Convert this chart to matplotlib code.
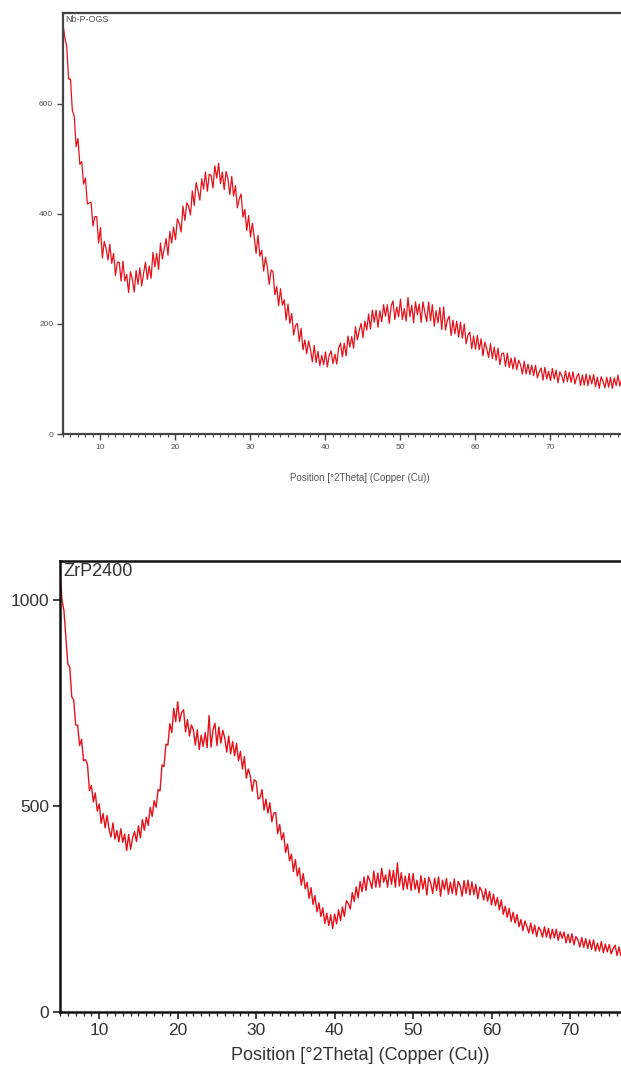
import numpy as np
import matplotlib
matplotlib.use("Agg")
import matplotlib.pyplot as plt
from matplotlib.ticker import MultipleLocator

plt.rcParams['font.family'] = ['Liberation Sans', 'DejaVu Sans']

# 2Theta grid (deg), 0.25 step
two_theta = np.arange(5.0, 79.5 + 0.001, 0.25)

# Nb-P-OGS counts
nbp_counts = [
    745, 720, 705, 645, 645, 588, 578, 522, 537, 490,
    495, 454, 465, 418, 420, 421, 378, 395, 395, 347,
    375, 320, 350, 337, 316, 345, 310, 328, 288, 312,
    312, 278, 314, 278, 290, 257, 295, 281, 258, 297,
    272, 302, 269, 292, 312, 281, 305, 283, 330, 304,
    328, 299, 347, 318, 336, 355, 325, 368, 347, 376,
    353, 391, 383, 367, 414, 388, 420, 414, 398, 442,
    415, 457, 442, 425, 464, 445, 476, 441, 472, 470,
    447, 487, 465, 492, 455, 476, 444, 477, 463, 435,
    468, 432, 451, 411, 427, 436, 394, 408, 370, 397,
    358, 383, 358, 328, 361, 323, 334, 296, 321, 303,
    272, 298, 295, 253, 268, 233, 264, 234, 244, 207,
    236, 201, 219, 180, 197, 201, 168, 192, 153, 171,
    146, 169, 153, 131, 161, 130, 150, 124, 143, 126,
    149, 122, 143, 151, 128, 145, 127, 156, 165, 140,
    165, 142, 178, 158, 177, 156, 195, 171, 188, 201,
    175, 205, 189, 218, 191, 225, 203, 225, 194, 224,
    204, 235, 214, 235, 201, 232, 242, 208, 231, 213,
    245, 208, 228, 205, 248, 213, 234, 202, 240, 217,
    236, 203, 240, 221, 204, 240, 206, 235, 196, 224,
    202, 230, 190, 231, 189, 207, 214, 179, 207, 182,
    205, 176, 203, 174, 200, 164, 180, 185, 155, 178,
    154, 179, 153, 173, 142, 167, 155, 139, 164, 137,
    158, 134, 156, 126, 146, 147, 123, 147, 121, 138,
    118, 139, 117, 134, 126, 109, 132, 109, 127, 108,
    125, 106, 125, 102, 113, 120, 98, 121, 100, 114,
    97, 119, 100, 116, 93, 113, 106, 94, 115, 95,
    112, 94, 113, 91, 104, 110, 88, 107, 89, 109,
    88, 107, 91, 108, 86, 103, 83, 104, 96, 84,
    103, 85, 103, 83, 102, 88, 107, 87, 100,
]

# ZrP2400 counts
zrp_counts = [
    1080, 1000, 975, 910, 845, 837, 765, 758, 697, 696,
    647, 662, 610, 613, 602, 538, 550, 510, 532, 488,
    505, 458, 482, 447, 477, 444, 425, 459, 420, 441,
    413, 445, 412, 432, 392, 431, 395, 422, 438, 414,
    452, 423, 467, 441, 473, 453, 497, 475, 513, 497,
    540, 537, 600, 596, 650, 648, 700, 678, 737, 705,
    753, 705, 727, 734, 680, 710, 670, 697, 685, 648,
    685, 637, 672, 645, 678, 642, 720, 643, 685, 701,
    647, 692, 653, 684, 665, 631, 670, 627, 657, 622,
    652, 610, 633, 590, 620, 568, 590, 573, 536, 564,
    560, 517, 520, 540, 490, 517, 483, 508, 462, 483,
    484, 433, 455, 418, 435, 387, 408, 367, 383, 341,
    370, 330, 350, 308, 336, 299, 315, 276, 302, 261,
    283, 243, 265, 232, 253, 215, 240, 210, 236, 203,
    238, 214, 248, 222, 255, 232, 270, 263, 250, 290,
    268, 304, 277, 317, 292, 328, 295, 331, 319, 300,
    342, 303, 337, 303, 349, 315, 333, 303, 345, 310,
    344, 303, 362, 306, 338, 297, 330, 299, 336, 295,
    336, 298, 320, 289, 331, 298, 325, 284, 327, 313,
    288, 325, 295, 328, 281, 320, 297, 324, 286, 315,
    288, 323, 284, 317, 307, 281, 319, 288, 320, 284,
    316, 285, 310, 275, 303, 294, 272, 299, 269, 293,
    260, 286, 258, 278, 248, 272, 237, 257, 230, 252,
    220, 242, 216, 237, 207, 225, 198, 221, 208, 192,
    216, 190, 211, 183, 206, 199, 182, 207, 182, 203,
    178, 201, 180, 201, 174, 195, 179, 194, 168, 189,
    168, 190, 163, 183, 176, 158, 181, 157, 178, 154,
    175, 152, 175, 148, 167, 148, 171, 144, 165, 146,
    164, 141, 154, 162, 137, 158, 136, 159, 138, 156,
    135, 157, 134, 154, 136, 155, 133, 152, 134,
]

xlabel = "Position [°2Theta] (Copper (Cu))"
line_color = "#e3121b"

fig = plt.figure(figsize=(6.21, 10.74), dpi=100)

# ---- top panel: Nb-P-OGS ----
ax1 = fig.add_axes([0.1014, 0.5959, 0.8986, 0.392])
ax1.plot(two_theta, nbp_counts, color=line_color, lw=0.9)
ax1.set_xlim(5, 79.4)
ax1.set_ylim(0, 765)
ax1.set_yticks([0, 200, 400, 600])
ax1.xaxis.set_major_locator(MultipleLocator(10))
ax1.xaxis.set_minor_locator(MultipleLocator(1))
ax1.tick_params(axis='both', which='major', labelsize=6, labelcolor='#555',
                color='#444', length=4, width=1, pad=3)
ax1.tick_params(axis='x', which='minor', color='#444', length=2.5, width=0.8)
for s in ['left', 'top', 'bottom']:
    ax1.spines[s].set_color('#444')
    ax1.spines[s].set_linewidth(1.6)
ax1.spines['right'].set_visible(False)
ax1.text(0.004, 0.996, "Nb-P-OGS", transform=ax1.transAxes, fontsize=6.5,
         color='#555', ha='left', va='top')
ax1.set_xlabel(xlabel, fontsize=7, color='#555')
ax1.xaxis.set_label_coords(0.532, -0.092)

# ---- bottom panel: ZrP2400 ----
ax2 = fig.add_axes([0.0966, 0.0577, 0.9034, 0.42])
ax2.plot(two_theta, zrp_counts, color=line_color, lw=1.0)
ax2.set_xlim(5, 76.5)
ax2.set_ylim(0, 1095)
ax2.set_yticks([0, 500, 1000])
ax2.xaxis.set_major_locator(MultipleLocator(10))
ax2.xaxis.set_minor_locator(MultipleLocator(1))
ax2.tick_params(axis='both', which='major', labelsize=12.5, labelcolor='#333',
                color='#222', length=5, width=1.2, pad=3)
ax2.tick_params(axis='x', which='minor', color='#222', length=3, width=0.9)
for s in ['left', 'top', 'bottom']:
    ax2.spines[s].set_color('#111')
    ax2.spines[s].set_linewidth(1.8)
ax2.spines['right'].set_visible(False)
ax2.text(0.006, 0.995, "ZrP2400", transform=ax2.transAxes, fontsize=13,
         color='#333', ha='left', va='top')
ax2.set_xlabel(xlabel, fontsize=13, color='#333')
ax2.xaxis.set_label_coords(0.535, -0.078)

fig.savefig("out.png", dpi=100)
